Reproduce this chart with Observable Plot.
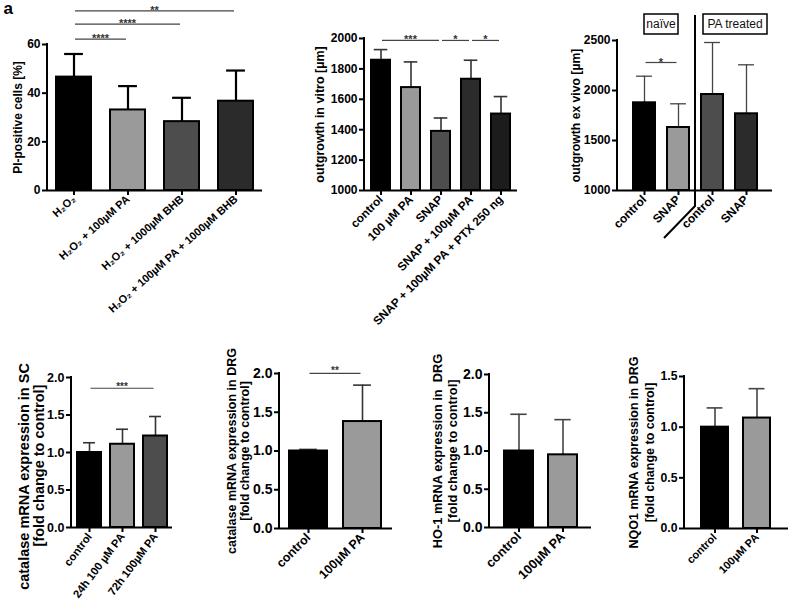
<!DOCTYPE html>
<html><head><meta charset="utf-8">
<script src="https://cdn.jsdelivr.net/npm/d3@7"></script>
<script src="https://cdn.jsdelivr.net/npm/@observablehq/plot@0.6"></script>
<style>
html,body{margin:0;padding:0;background:#fff;}
#fig{position:relative;width:788px;height:604px;overflow:hidden;background:#fff;}
#fig .panel{position:absolute;}
</style></head><body><div id="fig"></div>
<script>
// ---------------- data ----------------
const greys = ["#000000", "#9a9a9a", "#4d4d4d", "#2b2b2b", "#1c1c1c"];

// a) PI-positive cells
const aLabels = ["H₂O₂", "H₂O₂ + 100µM PA", "H₂O₂ + 1000µM BHB", "H₂O₂ + 100µM PA + 1000µM BHB"];
const aMean = [46.6, 33.1, 28.3, 36.7];
const aSD = [9.5, 9.8, 9.8, 12.6];
const aSig = [{from: 0, to: 1, label: "****", y: 62}, {from: 0, to: 2, label: "****", y: 68.2}, {from: 0, to: 3, label: "**", y: 73.6}];
const aTicks = [0, 20, 40, 60];
const aTitle = ["PI-positive cells [%]"];

// b) outgrowth in vitro
const bLabels = ["control", "100 µM PA", "SNAP", "SNAP + 100µM PA", "SNAP + 100µM PA + PTX 250 ng"];
const bMean = [1857, 1677, 1389, 1732, 1503];
const bSD = [70, 169, 88, 125, 115];
const bSig = [{from: 0, to: 2, label: "***", y: 1984}, {from: 2, to: 3, label: "*", y: 1984}, {from: 3, to: 4, label: "*", y: 1984}];
const bTicks = [1000, 1200, 1400, 1600, 1800, 2000];
const bTitle = ["outgrowth in vitro [µm]"];

// c) outgrowth ex vivo
const cGroups = ["naïve", "naïve", "PA treated", "PA treated"];
const cLabels = ["control", "SNAP", "control", "SNAP"];
const cMean = [1877, 1630, 1960, 1767];
const cSD = [266, 237, 520, 490];
const cSig = [{from: 0, to: 1, label: "*", y: 2275}];
const cTicks = [1000, 1500, 2000, 2500];
const cTitle = ["outgrowth ex vivo [µm]"];

// d) catalase SC
const dLabels = ["control", "24h 100 µM PA", "72h 100µM PA"];
const dMean = [1.00, 1.11, 1.22];
const dSD = [0.13, 0.20, 0.26];
const dSig = [{from: 0, to: 2, label: "***", y: 1.85}];
const dTicks = [0, 0.5, 1, 1.5, 2];
const dTitle = ["catalase mRNA expression in SC", "[fold change to control]"];

// e) catalase DRG
const eLabels = ["control", "100µM PA"];
const eMean = [1.00, 1.38];
const eSD = [0.02, 0.47];
const eSig = [{from: 0, to: 1, label: "**", y: 1.995}];
const eTicks = [0, 0.5, 1, 1.5, 2];
const eTitle = ["catalase mRNA expression in DRG", "[fold change to control]"];

// f) HO-1 DRG
const fLabels = ["control", "100µM PA"];
const fMean = [1.00, 0.95];
const fSD = [0.48, 0.46];
const fTicks = [0, 0.5, 1, 1.5, 2];
const fTitle = ["HO-1 mRNA expression in  DRG", "[fold change to control]"];

// g) NQO1 DRG
const gLabels = ["control", "100µM PA"];
const gMean = [1.00, 1.09];
const gSD = [0.19, 0.29];
const gTicks = [0, 0.5, 1, 1.5];
const gTitle = ["NQO1 mRNA expression in DRG", "[fold change to control]"];

// ---------------- layout ----------------
const FONT = "'Liberation Sans', Arial, Helvetica, sans-serif";
const fmt1 = d3.format(".1f");

const panels = [
  {data: {labels: aLabels, mean: aMean, sd: aSD, sig: aSig, yDomain: [0, 60], yTicks: aTicks, yFormat: d3.format("d"), title: aTitle},
   L: {left: 0, top: 0, width: 265, height: 310, mL: 47, mR: 3, mT: 44, mB: 120, pi: 0.35, po: 0.16, rot: -42,
       yTickFont: 12, xTickFont: 11, titleFont: 12, titleDx: [-29], titleDy: [0],
       errColor: "#000", errWidth: 2.2, capInset: 0.23, barStroke: 2, starFont: 11, starDy: 3, letter: true}},
  {data: {labels: bLabels, mean: bMean, sd: bSD, sig: bSig, yDomain: [1000, 2000], yTicks: bTicks, yFormat: d3.format("d"), title: bTitle},
   L: {left: 270, top: 0, width: 250, height: 310, mL: 94, mR: 3, mT: 38, mB: 120, pi: 0.36, po: 0.21, rot: -45,
       yTickFont: 12, xTickFont: 11.8, titleFont: 12.5, titleDx: [-45], titleDy: [0],
       errColor: "#333", errWidth: 1.6, capInset: 0.14, barStroke: 2, starFont: 11, starDy: 3}},
  {data: {labels: cLabels, groups: cGroups, mean: cMean, sd: cSD, sig: cSig, yDomain: [1000, 2500], yTicks: cTicks, yFormat: d3.format("d"), title: cTitle},
   L: {left: 540, top: 0, width: 248, height: 310, mL: 77, mR: 16, mT: 40, mB: 120, pi: 0.36, po: 0.44, rot: -45,
       yTickFont: 12, xTickFont: 12, titleFont: 12.2, titleDx: [-41.5], titleDy: [0],
       errColor: "#444", errWidth: 1.3, capInset: 0.14, barStroke: 2, starFont: 11, starDy: 3,
       boxW: [34, 64], boxDx: [0, 6]}},
  {data: {labels: dLabels, mean: dMean, sd: dSD, sig: dSig, yDomain: [0, 2], yTicks: dTicks, yFormat: fmt1, title: dTitle},
   L: {left: 0, top: 320, width: 195, height: 284, mL: 71, mR: 23, mT: 57, mB: 77, pi: 0.28, po: 0.148, rot: -53,
       yTickFont: 12.5, xTickFont: 11.2, titleFont: 14.5, titleDx: [-47, -32], titleDy: [24, 13],
       errColor: "#333", errWidth: 1.6, capInset: 0.25, barStroke: 2, starFont: 10, starDy: 2}},
  {data: {labels: eLabels, mean: eMean, sd: eSD, sig: eSig, yDomain: [0, 2], yTicks: eTicks, yFormat: fmt1, title: eTitle},
   L: {left: 200, top: 320, width: 195, height: 284, mL: 79, mR: 3, mT: 53, mB: 76, pi: 0.29, po: 0.176, rot: -45,
       yTickFont: 14, xTickFont: 12.5, titleFont: 12.5, titleDx: [-47.8, -34.8], titleDy: [0, 0],
       errColor: "#333", errWidth: 1.6, capInset: 0.26, barStroke: 2, starFont: 10, starDy: 1}},
  {data: {labels: fLabels, mean: fMean, sd: fSD, sig: [], yDomain: [0, 2], yTicks: fTicks, yFormat: fmt1, title: fTitle},
   L: {left: 400, top: 320, width: 192, height: 284, mL: 89, mR: 1, mT: 54, mB: 77, pi: 0.35, po: 0.33, rot: -45,
       yTickFont: 14, xTickFont: 12.9, titleFont: 12.8, titleDx: [-51.3, -36.3], titleDy: [0, 0],
       errColor: "#444", errWidth: 1.6, capInset: 0.22, barStroke: 2, starFont: 10, starDy: 1}},
  {data: {labels: gLabels, mean: gMean, sd: gSD, sig: [], yDomain: [0, 1.5], yTicks: gTicks, yFormat: fmt1, title: gTitle},
   L: {left: 590, top: 320, width: 198, height: 284, mL: 94, mR: 0, mT: 56, mB: 76, pi: 0.35, po: 0.39, rot: -45,
       yTickFont: 12.2, xTickFont: 11, titleFont: 12.5, titleDx: [-50.3, -34.8], titleDy: [0, 0],
       errColor: "#444", errWidth: 1.6, capInset: 0.2, barStroke: 2, starFont: 10, starDy: 1}}
];

function makePanel(d, L) {
  const n = d.labels.length;
  const keys = d.labels.map((l, i) => (d.groups ? d.groups[i] + "|" : "") + l);
  const rows = keys.map((key, i) => ({key, mean: d.mean[i], sd: d.sd[i], fill: greys[i]}));
  const y0 = d.yDomain[0];
  const frameW = L.width - L.mL - L.mR;
  const step = frameW / (n - L.pi + 2 * L.po);
  const cap = step * (1 - L.pi) * L.capInset;

  const axisLine = (index, {y}, values, dims) =>
    d3.create("svg:line")
      .attr("x1", dims.marginLeft).attr("x2", dims.marginLeft)
      .attr("y1", y(d.yDomain[1]) - 1).attr("y2", y(y0) + 1)
      .attr("stroke", "#000").attr("stroke-width", 2).node();

  const sigMark = (index, {x, y}) => {
    const g = d3.create("svg:g");
    const half = x.bandwidth() / 2;
    for (const s of d.sig) {
      const x1 = x(keys[s.from]) + half + 1.5, x2 = x(keys[s.to]) + half - 1.5, yy = y(s.y);
      g.append("line").attr("x1", x1).attr("x2", x2).attr("y1", yy).attr("y2", yy)
        .attr("stroke", "#444").attr("stroke-width", 1.2);
      g.append("text").attr("x", (x1 + x2) / 2).attr("y", yy + L.starDy)
        .attr("text-anchor", "middle").attr("font-size", L.starFont).attr("font-weight", "bold")
        .attr("fill", "#333").text(s.label);
    }
    return g.node();
  };

  const marks = [
    Plot.ruleY([y0], {stroke: "#000", strokeWidth: 2}),
    axisLine,
    Plot.ruleX(rows, {x: "key", y1: "mean", y2: r => r.mean + r.sd, stroke: L.errColor, strokeWidth: L.errWidth}),
    Plot.tickY(rows, {x: "key", y: r => r.mean + r.sd, stroke: L.errColor, strokeWidth: L.errWidth, insetLeft: cap, insetRight: cap}),
    Plot.barY(rows, {x: "key", y1: y0, y2: "mean", fill: "fill", stroke: "#000", strokeWidth: L.barStroke}),
    Plot.axisY({ticks: d.yTicks, tickFormat: d.yFormat, tickSize: 5, tickPadding: 2, strokeWidth: 2, fontSize: L.yTickFont, fontWeight: "bold", label: null}),
    Plot.axisX({tickSize: 5, tickPadding: 2, tickRotate: L.rot, strokeWidth: 2, fontSize: L.xTickFont, fontWeight: "bold", label: null, tickFormat: k => k.split("|").pop()}),
    ...d.title.map((t, i) => Plot.text([t], {text: s => s, frameAnchor: "left", textAnchor: "middle", lineAnchor: "middle", rotate: -90, dx: L.titleDx[i], dy: L.titleDy[i], fontSize: L.titleFont, fontWeight: "bold", fill: "#000"})),
    sigMark
  ];

  if (d.groups) {
    const groupNames = Array.from(new Set(d.groups));
    marks.push((index, {x, y}) => {
      const g = d3.create("svg:g");
      const bw = x.bandwidth();
      const top = y(d.yDomain[1]);
      groupNames.forEach((name, gi) => {
        const ks = keys.filter((k, i) => d.groups[i] === name);
        const cx = (x(ks[0]) + x(ks[ks.length - 1]) + bw) / 2 + L.boxDx[gi];
        const w = L.boxW[gi];
        g.append("rect").attr("x", cx - w / 2).attr("y", top - 26).attr("width", w).attr("height", 20)
          .attr("fill", "#fff").attr("stroke", "#000").attr("stroke-width", 1.5);
        g.append("text").attr("x", cx).attr("y", top - 16).attr("dy", "0.35em").attr("text-anchor", "middle")
          .attr("font-size", 12).attr("font-weight", "normal").attr("fill", "#111").text(name);
      });
      // divider between the two groups
      const i2 = d.groups.indexOf(groupNames[1]);
      const xd = (x(keys[i2 - 1]) + bw + x(keys[i2])) / 2;
      const base = y(y0);
      g.append("path").attr("d", `M${xd},${top - 25}L${xd},${base + 16}L${xd - 31},${base + 48}`)
        .attr("fill", "none").attr("stroke", "#000").attr("stroke-width", 2);
      return g.node();
    });
  }

  if (L.letter) {
    marks.push(Plot.text(["a"], {text: s => s, frameAnchor: "top-left", dx: -44, dy: -36, fontSize: 17, fontWeight: "bold", textAnchor: "start", lineAnchor: "middle", fill: "#000"}));
  }

  const svg = Plot.plot({
    width: L.width, height: L.height,
    marginTop: L.mT, marginRight: L.mR, marginBottom: L.mB, marginLeft: L.mL,
    style: `background: transparent; overflow: visible; font-family: ${FONT}; font-weight: bold; color: #000;`,
    x: {type: "band", domain: keys, paddingInner: L.pi, paddingOuter: L.po, align: 0.5, label: null},
    y: {type: "linear", domain: d.yDomain, label: null},
    marks
  });
  svg.classList.add("panel");
  svg.style.left = L.left + "px";
  svg.style.top = L.top + "px";
  svg.style.position = "absolute";
  return svg;
}

const fig = document.getElementById("fig");
for (const p of panels) fig.appendChild(makePanel(p.data, p.L));
</script>
</body></html>
